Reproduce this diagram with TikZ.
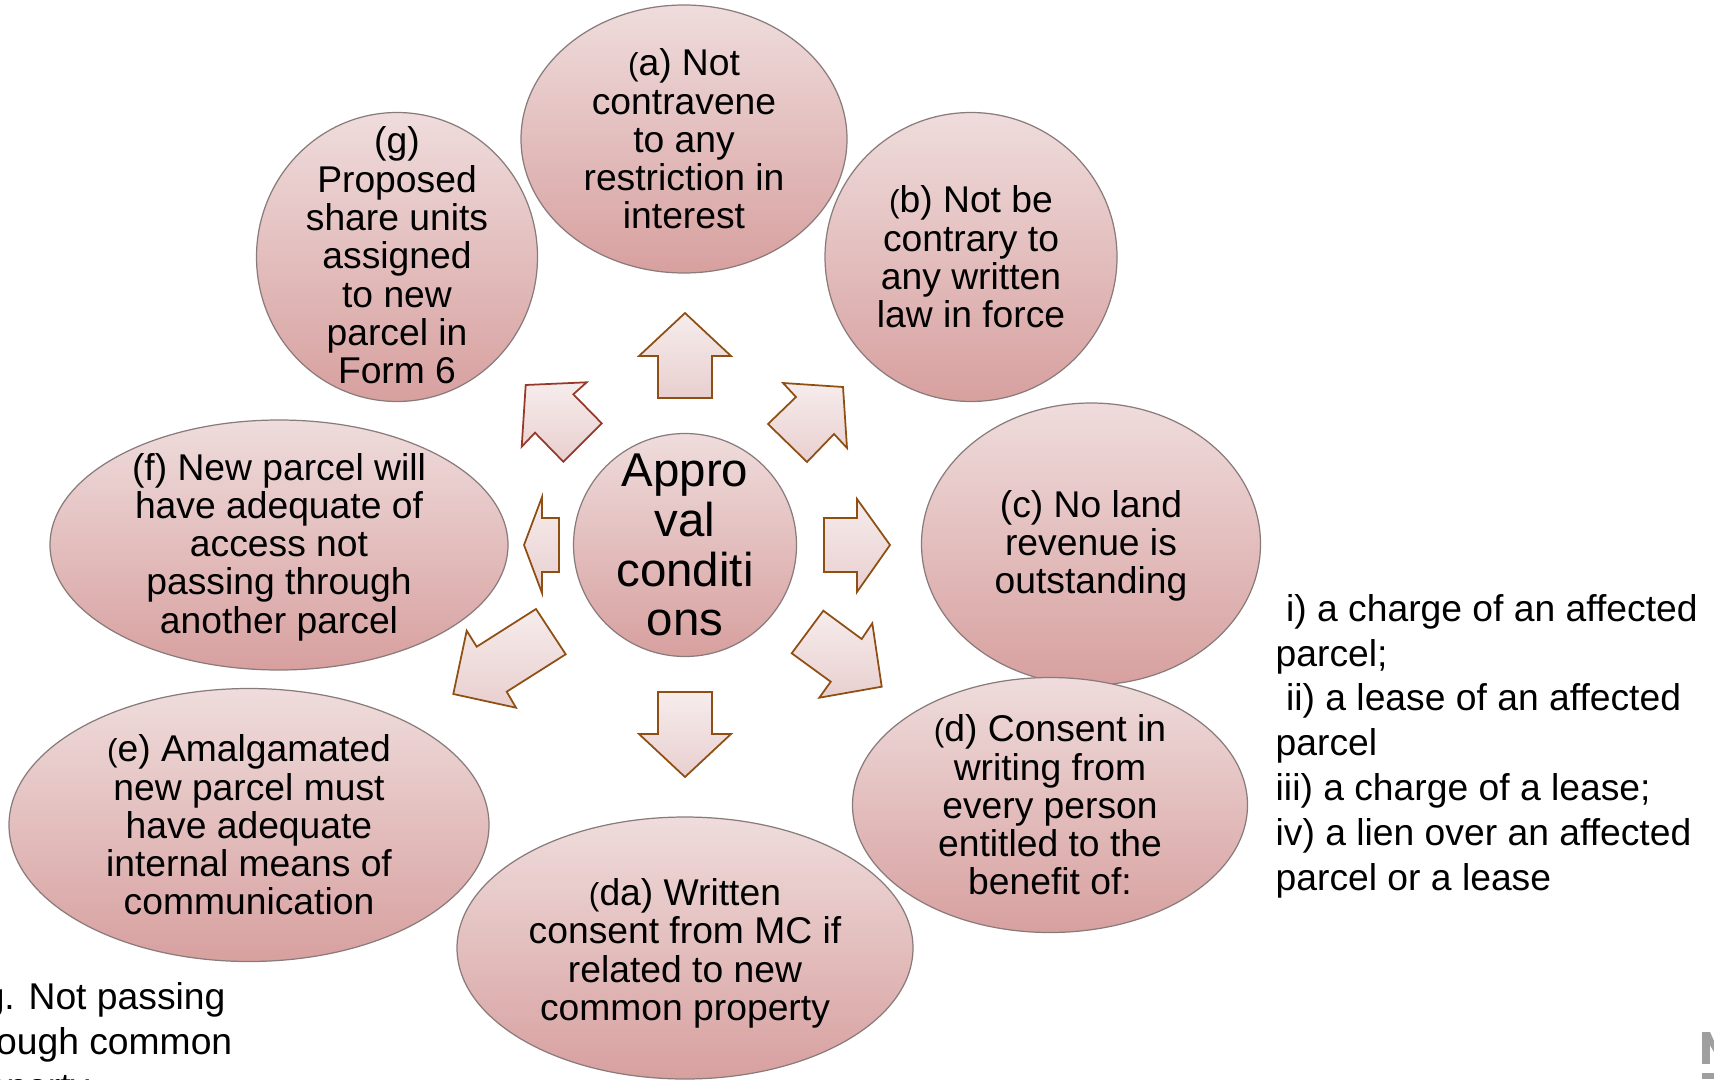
\documentclass[tikz,border=0pt]{standalone}
\usepackage{fontspec}
\setmainfont{Liberation Sans}
\usetikzlibrary{shapes.geometric}

\definecolor{bubbletop}{HTML}{EFDCDC}
\definecolor{bubblebottom}{HTML}{D7A09F}
\definecolor{bubbleline}{HTML}{8A7B7B}
\definecolor{arrowtop}{HTML}{F6ECEC}
\definecolor{arrowbottom}{HTML}{E9CFCF}
\definecolor{arrowline}{HTML}{8F4E12}
\definecolor{arrowlinered}{HTML}{96392A}

% the slightly smaller opening bracket of some labels
\def\lp{{\fontsize{9pt}{9pt}\selectfont(}}

\tikzset{
	bubble/.style={ellipse, draw=bubbleline, line width=0.35pt, top color=bubbletop, bottom color=bubblebottom, inner sep=0pt},
	bubbletext/.style={align=center, inner sep=0pt, font=\fontsize{10.6pt}{10.9pt}\selectfont},
	hubtext/.style={align=center, inner sep=0pt, font=\fontsize{13.5pt}{14.2pt}\selectfont},
	blockarrow/.style={draw=arrowline, line width=0.5pt, line join=miter, top color=arrowtop, bottom color=arrowbottom},
	sidenote/.style={align=left, inner sep=0pt, anchor=west, font=\fontsize{10.6pt}{12.75pt}\selectfont}
}

\begin{document}
\begin{tikzpicture}[x=0.1mm, y=-0.1mm]
			%%%%% START %%%%%
			
			\useasboundingbox (0,0) rectangle (1714,1079);
			\clip (0,0) rectangle (1714,1079);
			
			% conditions round the hub
			\node[bubble, minimum width=32.6mm, minimum height=26.8mm] (a) at (684,139) {};
			\node[bubbletext] (a text) at (a) {\lp a) Not\\contravene\\to any\\restriction in\\interest};
			
			\node[bubble, minimum width=29.2mm, minimum height=28.9mm] (b) at (971,257) {};
			\node[bubbletext] (b text) at (b) {\lp b) Not be\\contrary to\\any written\\law in force};
			
			\node[bubble, minimum width=33.9mm, minimum height=28.2mm] (c) at (1091,544) {};
			\node[bubbletext] (c text) at ([yshift=-0.2mm]c.center) {(c) No land\\revenue is\\outstanding};
			
			\node[bubble, minimum width=39.5mm, minimum height=25.5mm] (d) at (1050,805) {};
			\node[bubbletext] (d text) at (d) {\lp d) Consent in\\writing from\\every person\\entitled to the\\benefit of:};
			
			\node[bubble, minimum width=45.6mm, minimum height=26.2mm] (da) at (685,948) {};
			\node[bubbletext] (da text) at ([yshift=-0.55mm]da.center) {\lp da) Written\\consent from MC if\\related to new\\common property};
			
			\node[bubble, minimum width=48mm, minimum height=27.3mm] (e) at (249,825) {};
			\node[bubbletext] (e text) at (e) {\lp e) Amalgamated\\new parcel must\\have adequate\\internal means of\\communication};
			
			\node[bubble, minimum width=45.8mm, minimum height=25mm] (f) at (279,545) {};
			\node[bubbletext] (f text) at ([yshift=-0.2mm]f.center) {(f) New parcel will\\have adequate of\\access not\\passing through\\another parcel};
			
			\node[bubble, minimum width=28.1mm, minimum height=28.9mm] (g) at (397,257) {};
			\node[bubbletext] (g text) at ([yshift=0.15mm]g.center) {(g)\\Proposed\\share units\\assigned\\to new\\parcel in\\Form 6};
			
			% hub
			\node[bubble, minimum width=22.3mm, minimum height=22.3mm] (hub) at (685,545) {};
			\node[hubtext] (hub text) at (hub) {Appro\\val\\conditi\\ons};
			
			% block arrows, clockwise from the top
			\draw[blockarrow] (658,398) -- (658,356) -- (639,356) -- (685,313) -- (731,356) -- (712,356) -- (712,398) -- cycle;
			\draw[blockarrow] (768,424) -- (796,397) -- (783,383) -- (843,387) -- (847,448) -- (834,434) -- (807,462) -- cycle;
			\draw[blockarrow] (824,518) -- (857,518) -- (857,499) -- (890,545) -- (857,592) -- (857,572) -- (824,572) -- cycle;
			\draw[blockarrow] (823.3,610.7) -- (861.7,639) -- (872.3,623.3) -- (881.7,686.7) -- (819.3,697.7) -- (830.7,681.7) -- (791.7,653.3) -- cycle;
			\draw[blockarrow] (658,692) -- (712,692) -- (712,734) -- (731,734) -- (685,777) -- (639,734) -- (658,734) -- cycle;
			\draw[blockarrow] (536,609) -- (565.7,654.3) -- (506.7,691.7) -- (516,707.7) -- (453.3,694) -- (466.7,630.7) -- (476.7,646.7) -- cycle;
			\draw[blockarrow] (559,518) -- (559,572) -- (542,572) -- (542,593) -- (524,545) -- (542,497) -- (542,518) -- cycle;
			\draw[blockarrow, draw=arrowlinered] (525.7,385) -- (586.7,382.3) -- (573.3,394.3) -- (601.7,423.3) -- (563.3,461.7) -- (535,432.7) -- (521.7,446.7) -- cycle;
			
			% notes at the sides
			\node[sidenote] (interests) at (1275,746) {\hspace*{0.28em}i) a charge of an affected\\parcel;\\\hspace*{0.28em}ii) a lease of an affected\\parcel\\iii) a charge of a lease;\\iv) a lien over an affected\\parcel or a lease};
			\node[sidenote] (example) at (-48,1045) {e.g. Not passing\\through common\\property};
			
			% corner mark
			\fill[gray!75] (1702,1032) rectangle (1710,1064);
			\fill[gray!75] (1702,1032) -- (1710,1032) -- (1714,1041) -- (1714,1052) -- cycle;
			\fill[gray!75] (1702,1073) rectangle (1714,1079);
			
			%%%%% END %%%%%
\end{tikzpicture}
\end{document}
